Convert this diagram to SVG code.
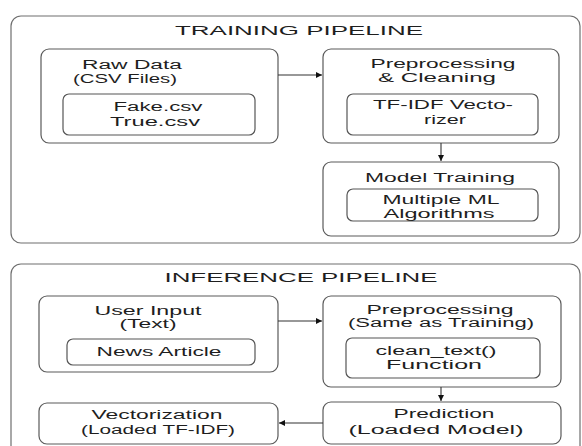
<svg xmlns="http://www.w3.org/2000/svg" width="582" height="446" viewBox="0 0 582 446">
<defs>
<style>
.outer{fill:#fff;stroke:#6f6f6f;stroke-width:1.2}
.box{fill:#fff;stroke:#5a5a5a;stroke-width:1.2}
.inner{fill:#fff;stroke:#555;stroke-width:1.2}
text{font-family:"Liberation Sans",Arial,sans-serif;font-size:12px;fill:#1e1e1e;text-anchor:middle}
.title{font-size:12.5px}
.edge{stroke:#333;stroke-width:1.1;fill:none;marker-end:url(#ah)}
</style>
<marker id="ah" viewBox="0 0 10 10" refX="10" refY="5" markerWidth="9" markerHeight="6" markerUnits="userSpaceOnUse" orient="auto">
<path d="M0,0 L10,5 L0,10 z" fill="#111"/>
</marker>
</defs>
<rect width="582" height="446" fill="#fff"/>

<g id="training-pipeline">
<rect class="outer" x="11" y="16" width="569" height="227" rx="10"/>
<text class="title" x="299" y="35" textLength="248" lengthAdjust="spacingAndGlyphs">TRAINING PIPELINE</text>
</g>
<g id="raw-data">
<rect class="box" x="41" y="49" width="237" height="94" rx="8"/>
<text x="132" y="69" textLength="100" lengthAdjust="spacingAndGlyphs">Raw Data</text>
<text x="125" y="83" textLength="104" lengthAdjust="spacingAndGlyphs">(CSV Files)</text>
</g>
<g id="csv-files">
<rect class="inner" x="63" y="94" width="192" height="41" rx="6"/>
<text x="158" y="111" textLength="89" lengthAdjust="spacingAndGlyphs">Fake.csv</text>
<text x="155" y="126" textLength="90" lengthAdjust="spacingAndGlyphs">True.csv</text>
</g>
<g id="preprocessing-cleaning">
<rect class="box" x="323" y="49" width="236" height="94" rx="8"/>
<text x="443" y="68" textLength="145" lengthAdjust="spacingAndGlyphs">Preprocessing</text>
<text x="437" y="82" textLength="118" lengthAdjust="spacingAndGlyphs">&amp; Cleaning</text>
</g>
<g id="tfidf-vectorizer">
<rect class="inner" x="347" y="94" width="191" height="41" rx="6"/>
<text x="443" y="109" textLength="140" lengthAdjust="spacingAndGlyphs">TF-IDF Vecto-</text>
<text x="445" y="124" textLength="42" lengthAdjust="spacingAndGlyphs">rizer</text>
</g>
<g id="model-training">
<rect class="box" x="323" y="162" width="236" height="74" rx="8"/>
<text x="440" y="182" textLength="150" lengthAdjust="spacingAndGlyphs">Model Training</text>
</g>
<g id="ml-algorithms">
<rect class="inner" x="347" y="189" width="191" height="32" rx="6"/>
<text x="441" y="204" textLength="117" lengthAdjust="spacingAndGlyphs">Multiple ML</text>
<text x="439" y="218" textLength="111" lengthAdjust="spacingAndGlyphs">Algorithms</text>
</g>

<g id="inference-pipeline">
<rect class="outer" x="11" y="264" width="569" height="200" rx="10"/>
<text class="title" x="301" y="282" textLength="273" lengthAdjust="spacingAndGlyphs">INFERENCE PIPELINE</text>
</g>
<g id="user-input">
<rect class="box" x="39" y="296" width="239" height="76" rx="8"/>
<text x="148" y="315" textLength="107" lengthAdjust="spacingAndGlyphs">User Input</text>
<text x="148" y="328" textLength="57" lengthAdjust="spacingAndGlyphs">(Text)</text>
</g>
<g id="news-article">
<rect class="inner" x="67" y="339" width="188" height="26" rx="6"/>
<text x="159" y="356" textLength="125" lengthAdjust="spacingAndGlyphs">News Article</text>
</g>
<g id="preprocessing-inference">
<rect class="box" x="323" y="296" width="238" height="91" rx="8"/>
<text x="440" y="314" textLength="147" lengthAdjust="spacingAndGlyphs">Preprocessing</text>
<text x="441" y="327" textLength="186" lengthAdjust="spacingAndGlyphs">(Same as Training)</text>
</g>
<g id="clean-text">
<rect class="inner" x="346" y="338" width="194" height="40" rx="6"/>
<text x="436" y="355" textLength="121" lengthAdjust="spacingAndGlyphs">clean_text()</text>
<text x="434" y="369" textLength="96" lengthAdjust="spacingAndGlyphs">Function</text>
</g>
<g id="prediction">
<rect class="box" x="323" y="402" width="238" height="42" rx="8"/>
<text x="444" y="418" textLength="101" lengthAdjust="spacingAndGlyphs">Prediction</text>
<text x="436" y="434" textLength="175" lengthAdjust="spacingAndGlyphs">(Loaded Model)</text>
</g>
<g id="vectorization">
<rect class="box" x="39" y="403" width="239" height="41" rx="8"/>
<text x="157" y="419" textLength="131" lengthAdjust="spacingAndGlyphs">Vectorization</text>
<text x="158" y="434" textLength="154" lengthAdjust="spacingAndGlyphs">(Loaded TF-IDF)</text>
</g>

<g id="connectors">
<line class="edge" x1="278" y1="75" x2="322" y2="75"/>
<line class="edge" x1="441" y1="143" x2="441" y2="161"/>
<line class="edge" x1="278" y1="321" x2="322" y2="321"/>
<line class="edge" x1="441" y1="387" x2="441" y2="401"/>
<line class="edge" x1="323" y1="423" x2="279" y2="423"/>
</g>
</svg>
